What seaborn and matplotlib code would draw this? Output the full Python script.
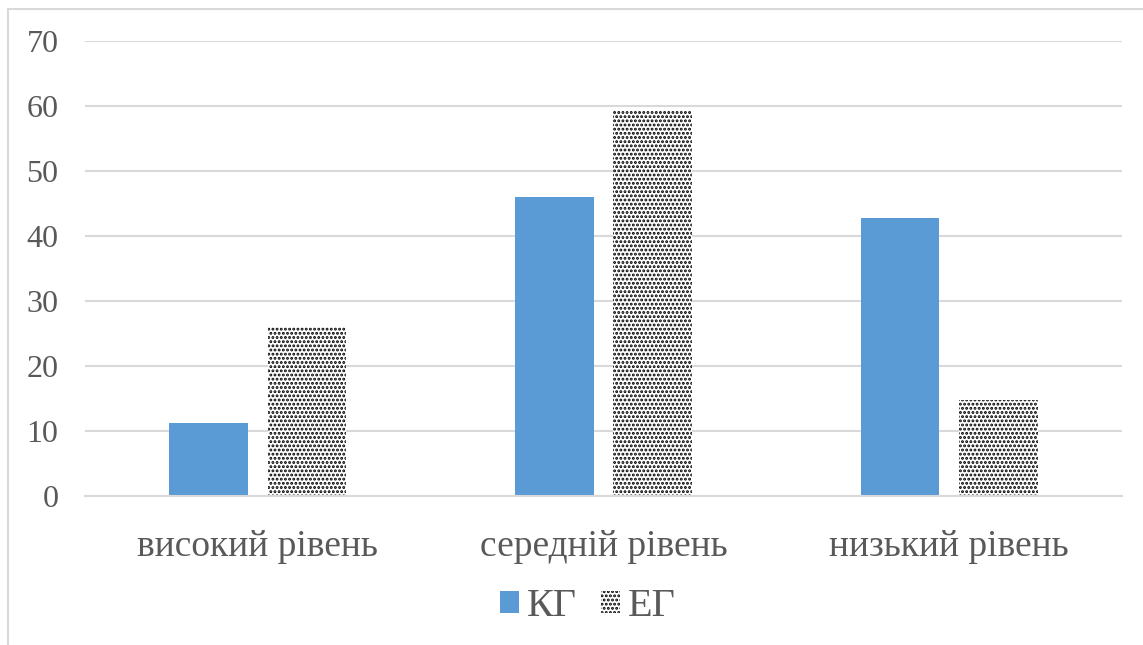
import matplotlib
matplotlib.use("Agg")
import matplotlib.pyplot as plt
import seaborn as sns
import pandas as pd
from matplotlib.patches import Rectangle

categories = ["високий рівень", "середній рівень", "низький рівень"]
groups = ["КГ", "ЕГ"]
kg_values = [11.3, 46.0, 42.8]
eg_values = [26.0, 59.4, 14.8]
y_ticks = [0, 10, 20, 30, 40, 50, 60, 70]

df = pd.DataFrame({
    "level": categories * 2,
    "group": [groups[0]] * 3 + [groups[1]] * 3,
    "value": kg_values + eg_values,
})

sns.set_theme(style="white")
plt.rcParams["font.family"] = ["Liberation Serif", "DejaVu Serif"]
plt.rcParams["hatch.linewidth"] = 1.4

text_col = "#595959"
grid_col = "#d9d9d9"

fig = plt.figure(figsize=(11.43, 6.45), dpi=100)
ax = fig.add_axes([85 / 1143, 1 - 496 / 645, (1122 - 85) / 1143, (496 - 41) / 645])

sns.barplot(data=df, x="level", y="value", hue="group", order=categories,
            hue_order=groups, palette=["#5b9bd5", "white"], width=0.57, gap=0.2,
            saturation=1, ax=ax, legend=False)

# blue solid for KG, dotted pattern for EG
for i, p in enumerate(ax.patches):
    if i < 3:
        p.set_facecolor("#5b9bd5")
        p.set_edgecolor("#5b9bd5")
        p.set_linewidth(0)
    else:
        p.set_facecolor("white")
        p.set_edgecolor("black")
        p.set_hatch("....")
        p.set_linewidth(0)

ax.set_ylim(0, 70)
ax.set_yticks(y_ticks)
ax.set_xlim(-0.5, 2.5)
ax.yaxis.grid(True, color=grid_col, linewidth=1.5)
ax.set_axisbelow(True)
for s in ["top", "right", "left"]:
    ax.spines[s].set_visible(False)
ax.spines["bottom"].set_color(grid_col)
ax.spines["bottom"].set_linewidth(1.5)
ax.tick_params(axis="y", labelsize=23, labelcolor=text_col, length=0, pad=19)
ax.tick_params(axis="x", labelsize=27, labelcolor=text_col, length=0, pad=24)
ax.set_xlabel("")
ax.set_ylabel("")

handles = [Rectangle((0, 0), 1, 1, facecolor="#5b9bd5", linewidth=0),
           Rectangle((0, 0), 1, 1, facecolor="white", edgecolor="black",
                     hatch="....", linewidth=0)]
fig.legend(handles, groups, loc="center", bbox_to_anchor=(588 / 1143, 1 - 607 / 645),
           ncol=2, frameon=False, fontsize=29, labelcolor=text_col,
           handlelength=0.47, handleheight=0.47, handletextpad=0.2, columnspacing=0.6)

# chart border
fig.patches.append(Rectangle((8 / 1143, -0.01), 1.1, 1 - 9 / 645 + 0.01,
                             transform=fig.transFigure, fill=False,
                             edgecolor="#d9d9d9", linewidth=1.5))

fig.savefig("out.png", dpi=100)
